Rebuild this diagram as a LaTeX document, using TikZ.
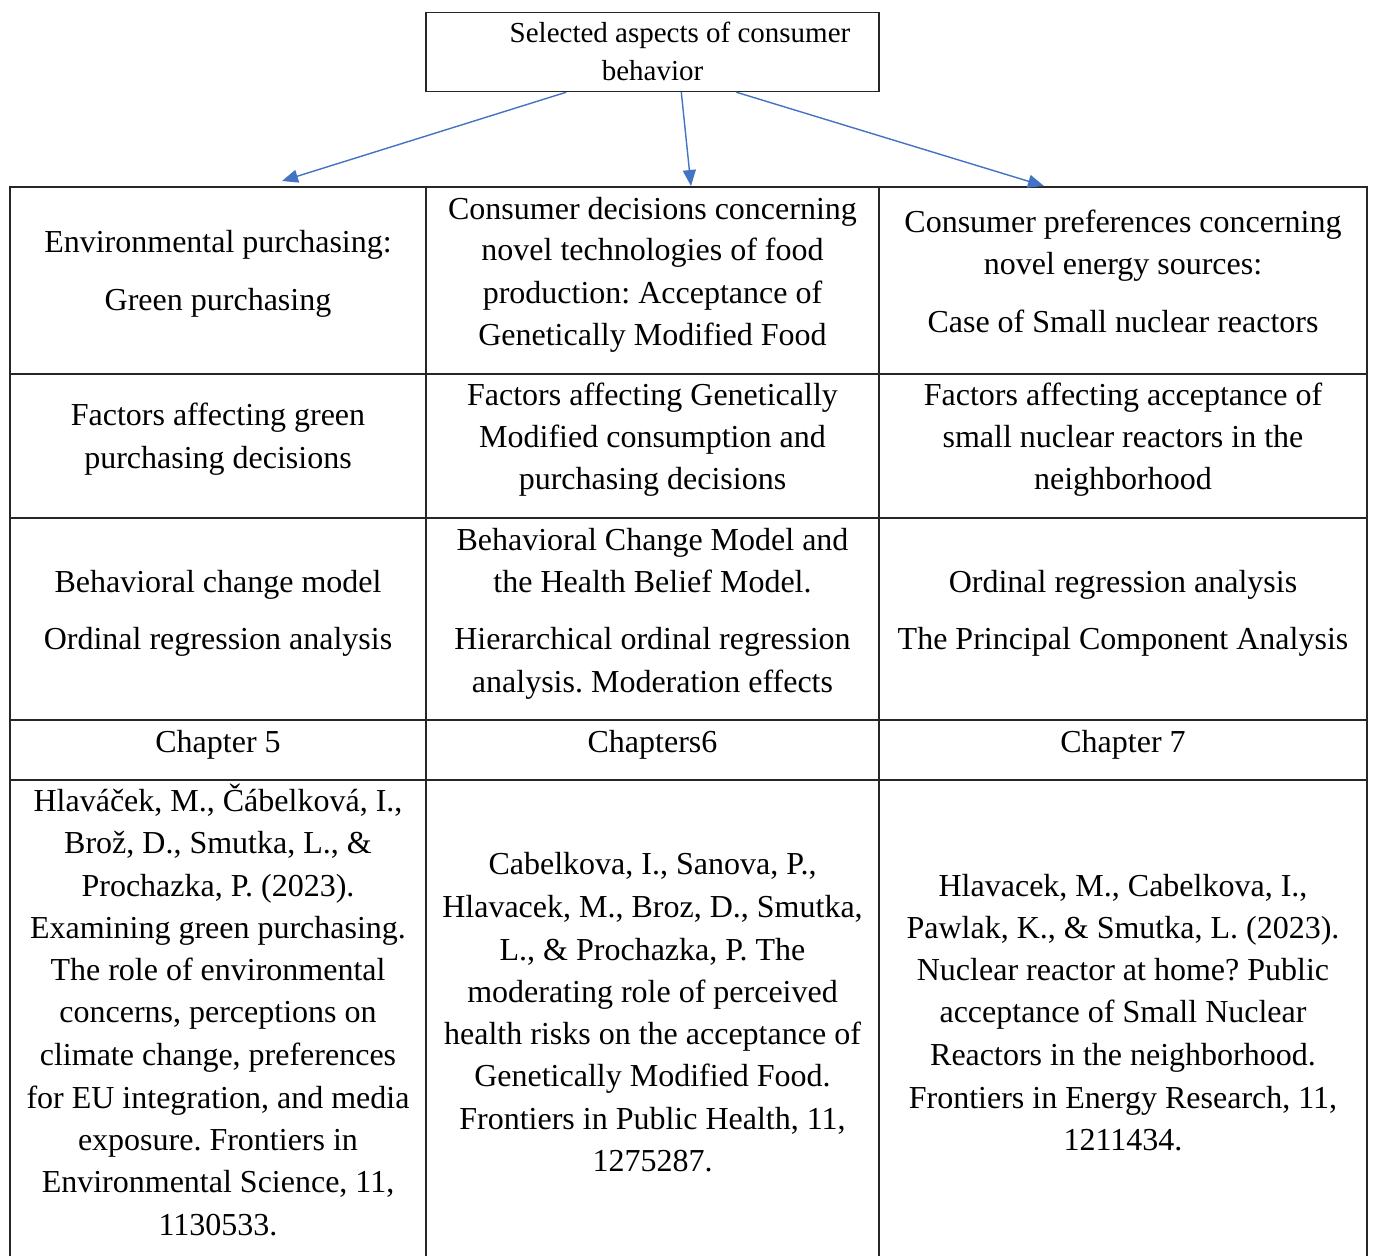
\documentclass[tikz,border=0pt]{standalone}
\usepackage{fontspec}
\setmainfont{Liberation Serif}
\usetikzlibrary{arrows.meta,calc}
\definecolor{arrowblue}{HTML}{4472C4}
\frenchspacing
\begin{document}
\begin{tikzpicture}[x=1pt,y=-1pt,
  txt/.style={inner sep=0pt, text height=27pt, text depth=7pt, anchor=center, font=\fontsize{32}{42}\selectfont\frenchspacing},
  grid/.style={line width=1.4pt, draw=black!85},
  conn/.style={draw=arrowblue, line width=1.4pt, -{Triangle[length=16pt,width=13pt]}}]
\useasboundingbox (0,0) rectangle (1373,1256);
\fill[white] (0,0) rectangle (1373,1256);

% top box
\node[draw=black!85, line width=1.4pt, minimum width=453pt, minimum height=79pt, inner sep=0pt,
      align=center, font=\fontsize{29}{38}\selectfont] (top) at (652.5,52)
      {\raisebox{1pt}{\hspace*{55pt}Selected aspects of consumer}\\\raisebox{1pt}{behavior}};

% table grid
\coordinate (tl) at (10,187);
\coordinate (tr) at (1367,187);
\draw[grid] (10,1256) -- (tl) -- (tr) -- (1367,1256);
\draw[grid] (426,187) -- (426,1256);
\draw[grid] (879,187) -- (879,1256);
\foreach \yy in {374,518,720,780} \draw[grid] (10,\yy) -- (1367,\yy);

% arrow targets
\coordinate (e1) at (282,181);
\coordinate (e2) at (691,186);
\coordinate (e3) at (1044,186);
\draw[conn] ($(top.south west)+(141,0)$) -- (e1);
\draw[conn] ($(top.south west)+(256,0)$) -- (e2);
\draw[conn] ($(top.south west)+(311,0)$) -- (e3);

% row 1
\node[txt] (a1) at (218,242) {Environmental purchasing:};
\node[txt] (a2) at (218,300) {Green purchasing};
\node[txt] (b1) at (652.5,209) {Consumer decisions concerning};
\node[txt] (b2) at (652.5,250) {novel technologies of food};
\node[txt] (b3) at (652.5,293) {production: Acceptance of};
\node[txt] (b4) at (652.5,335) {Genetically Modified Food};
\node[txt] (c1) at (1123,222) {Consumer preferences concerning};
\node[txt] (c2) at (1123,264) {novel energy sources:};
\node[txt] (c3) at (1123,322) {Case of Small nuclear reactors};

% row 2
\node[txt] (d1) at (218,415) {Factors affecting green};
\node[txt] (d2) at (218,458) {purchasing decisions};
\node[txt] (f1) at (652.5,395) {Factors affecting Genetically};
\node[txt] (f2) at (652.5,437) {Modified consumption and};
\node[txt] (f3) at (652.5,479) {purchasing decisions};
\node[txt] (g1) at (1123,395) {Factors affecting acceptance of};
\node[txt] (g2) at (1123,437) {small nuclear reactors in the};
\node[txt] (g3) at (1123,479) {neighborhood};

% row 3
\node[txt] (h1) at (218,582) {Behavioral change model};
\node[txt] (h2) at (218,639) {Ordinal regression analysis};
\node[txt] (i1) at (652.5,540) {Behavioral Change Model and};
\node[txt] (i2) at (652.5,582) {the Health Belief Model.};
\node[txt] (i3) at (652.5,639) {Hierarchical ordinal regression};
\node[txt] (i4) at (652.5,682) {analysis. Moderation effects};
\node[txt] (j1) at (1123,582) {Ordinal regression analysis};
\node[txt] (j2) at (1123,639) {The Principal Component Analysis};

% row 4
\node[txt] (k1) at (218,742) {Chapter 5};
\node[txt] (k2) at (652.5,742) {Chapters6};
\node[txt] (k3) at (1123,742) {Chapter 7};

% row 5
\node[txt] (l1) at (218,801) {Hlaváček, M., Čábelková, I.,};
\node[txt] (l2) at (218,843) {Brož, D., Smutka, L., \&};
\node[txt] (l3) at (218,886) {Prochazka, P. (2023).};
\node[txt] (l4) at (218,928) {Examining green purchasing.};
\node[txt] (l5) at (218,970) {The role of environmental};
\node[txt] (l6) at (218,1012) {concerns, perceptions on};
\node[txt] (l7) at (218,1055) {climate change, preferences};
\node[txt] (l8) at (218,1098) {for EU integration, and media};
\node[txt] (l9) at (218,1140) {exposure. Frontiers in};
\node[txt] (l10) at (218,1182) {Environmental Science, 11,};
\node[txt] (l11) at (218,1225) {1130533.};

\node[txt] (m1) at (652.5,864) {Cabelkova, I., Sanova, P.,};
\node[txt] (m2) at (652.5,907) {Hlavacek, M., Broz, D., Smutka,};
\node[txt] (m3) at (652.5,950) {L., \& Prochazka, P. The};
\node[txt] (m4) at (652.5,992) {moderating role of perceived};
\node[txt] (m5) at (652.5,1034) {health risks on the acceptance of};
\node[txt] (m6) at (652.5,1076) {Genetically Modified Food.};
\node[txt] (m7) at (652.5,1119) {Frontiers in Public Health, 11,};
\node[txt] (m8) at (652.5,1161) {1275287.};

\node[txt] (n1) at (1123,886) {Hlavacek, M., Cabelkova, I.,};
\node[txt] (n2) at (1123,928) {Pawlak, K., \& Smutka, L. (2023).};
\node[txt] (n3) at (1123,970) {Nuclear reactor at home? Public};
\node[txt] (n4) at (1123,1012) {acceptance of Small Nuclear};
\node[txt] (n5) at (1123,1055) {Reactors in the neighborhood.};
\node[txt] (n6) at (1123,1098) {Frontiers in Energy Research, 11,};
\node[txt] (n7) at (1123,1140) {1211434.};
\end{tikzpicture}
\end{document}
